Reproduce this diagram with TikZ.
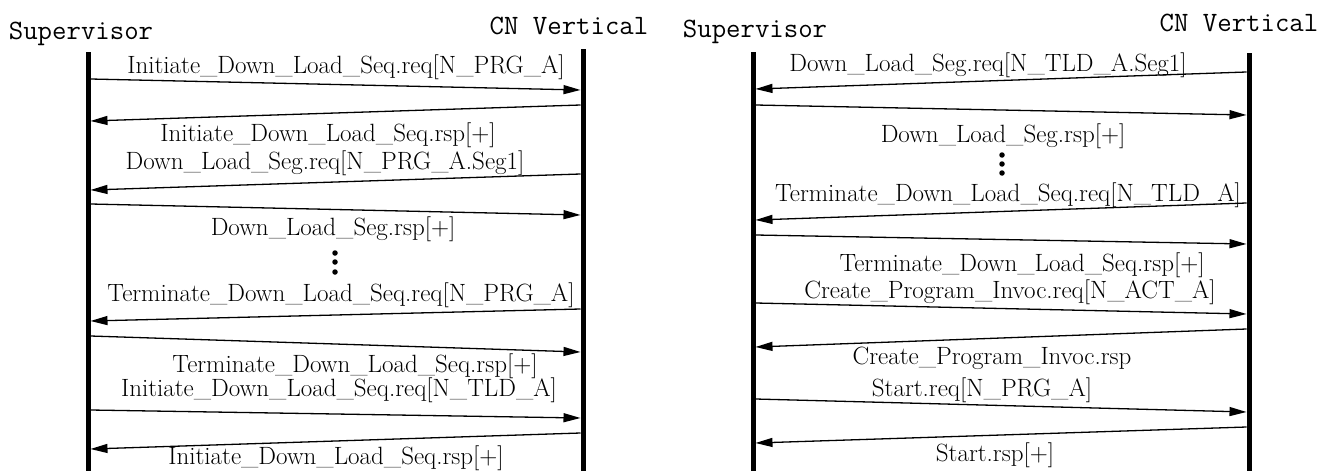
\documentclass[tikz,border=0pt]{standalone}
\usepackage{fontspec}
\usetikzlibrary{arrows.meta}
\tikzset{
  lifeline/.style={line width=5pt},
  msg/.style={line width=1.3pt, -{Triangle[length=17pt,width=9pt]}},
  lbl/.style={font=\fontsize{25}{27}\selectfont\addfontfeatures{FakeBold=0.3}, inner sep=0pt},
  actor/.style={font=\ttfamily\fontsize{28}{30}\selectfont\addfontfeatures{FakeBold=0.6}, inner sep=0pt},
  vdot/.style={circle, fill, inner sep=0pt, minimum size=5.5pt}
}
\begin{document}
\begin{tikzpicture}[x=1pt,y=-1pt]
\useasboundingbox (0,0) rectangle (1332,471);
% ---------------- left panel ----------------
\node[actor] (supL) at (81,34) {Supervisor};
\node[actor] (cnL) at (569,26) {CN Vertical};
\coordinate (sLt) at (88,52);  \coordinate (sLb) at (88,471);
\coordinate (cLt) at (583,49); \coordinate (cLb) at (583,471);
\draw[lifeline] (sLt) -- (sLb);
\draw[lifeline] (cLt) -- (cLb);

\node[lbl] (t1) at (346,67) {Initiate\_Down\_Load\_Seq.req[N\_PRG\_A]};
\coordinate (a1s) at (90.5,79);  \coordinate (a1e) at (580.5,90);
\draw[msg] (a1s) -- (a1e);
\coordinate (a2s) at (580.5,105); \coordinate (a2e) at (90.5,121);
\draw[msg] (a2s) -- (a2e);
\node[lbl] (t2) at (328,135) {Initiate\_Down\_Load\_Seq.rsp[+]};
\node[lbl] (t3) at (325,163) {Down\_Load\_Seg.req[N\_PRG\_A.Seg1]};
\coordinate (a3s) at (580.5,174); \coordinate (a3e) at (90.5,190);
\draw[msg] (a3s) -- (a3e);
\coordinate (a4s) at (90.5,204);  \coordinate (a4e) at (580.5,215);
\draw[msg] (a4s) -- (a4e);
\node[lbl] (t4) at (333,229) {Down\_Load\_Seg.rsp[+]};
\node[vdot] (d1) at (335,253) {};
\node[vdot] (d2) at (335,262) {};
\node[vdot] (d3) at (335,272) {};
\node[lbl] (t5) at (341,295) {Terminate\_Down\_Load\_Seq.req[N\_PRG\_A]};
\coordinate (a5s) at (580.5,309); \coordinate (a5e) at (90.5,321);
\draw[msg] (a5s) -- (a5e);
\coordinate (a6s) at (90.5,336);  \coordinate (a6e) at (580.5,352);
\draw[msg] (a6s) -- (a6e);
\node[lbl] (t6) at (355,366) {Terminate\_Down\_Load\_Seq.rsp[+]};
\node[lbl] (t7) at (339,390) {Initiate\_Down\_Load\_Seq.req[N\_TLD\_A]};
\coordinate (a7s) at (90.5,410);  \coordinate (a7e) at (580.5,418);
\draw[msg] (a7s) -- (a7e);
\coordinate (a8s) at (580.5,433); \coordinate (a8e) at (90.5,449);
\draw[msg] (a8s) -- (a8e);
\node[lbl] (t8) at (336,458) {Initiate\_Down\_Load\_Seq.rsp[+]};

% ---------------- right panel ----------------
\node[actor] (supR) at (755,32) {Supervisor};
\node[actor] (cnR) at (1239,23) {CN Vertical};
\coordinate (sRt) at (753,52);  \coordinate (sRb) at (753,471);
\coordinate (cRt) at (1249,53); \coordinate (cRb) at (1249,471);
\draw[lifeline] (sRt) -- (sRb);
\draw[lifeline] (cRt) -- (cRb);

\node[lbl] (r1) at (988,65) {Down\_Load\_Seg.req[N\_TLD\_A.Seg1]};
\coordinate (b1s) at (1246.5,72); \coordinate (b1e) at (755.5,89);
\draw[msg] (b1s) -- (b1e);
\coordinate (b2s) at (755.5,105); \coordinate (b2e) at (1246.5,115);
\draw[msg] (b2s) -- (b2e);
\node[lbl] (r2) at (1003,136) {Down\_Load\_Seg.rsp[+]};
\node[vdot] (e1) at (1002,155) {};
\node[vdot] (e2) at (1002,164) {};
\node[vdot] (e3) at (1002,173) {};
\node[lbl] (r3) at (1008,195) {Terminate\_Down\_Load\_Seq.req[N\_TLD\_A]};
\coordinate (b3s) at (1246.5,203); \coordinate (b3e) at (755.5,220);
\draw[msg] (b3s) -- (b3e);
\coordinate (b4s) at (755.5,235); \coordinate (b4e) at (1246.5,244);
\draw[msg] (b4s) -- (b4e);
\node[lbl] (r4) at (1022,265) {Terminate\_Down\_Load\_Seq.rsp[+]};
\node[lbl] (r5) at (1010,292) {Create\_Program\_Invoc.req[N\_ACT\_A]};
\coordinate (b5s) at (755.5,303); \coordinate (b5e) at (1246.5,314);
\draw[msg] (b5s) -- (b5e);
\coordinate (b6s) at (1246.5,329); \coordinate (b6e) at (755.5,347);
\draw[msg] (b6s) -- (b6e);
\node[lbl] (r6) at (992,358) {Create\_Program\_Invoc.rsp};
\node[lbl] (r7) at (982,390) {Start.req[N\_PRG\_A]};
\coordinate (b7s) at (755.5,399); \coordinate (b7e) at (1246.5,412);
\draw[msg] (b7s) -- (b7e);
\coordinate (b8s) at (1246.5,427); \coordinate (b8e) at (755.5,443);
\draw[msg] (b8s) -- (b8e);
\node[lbl] (r8) at (995,455) {Start.rsp[+]};
\end{tikzpicture}
\end{document}
